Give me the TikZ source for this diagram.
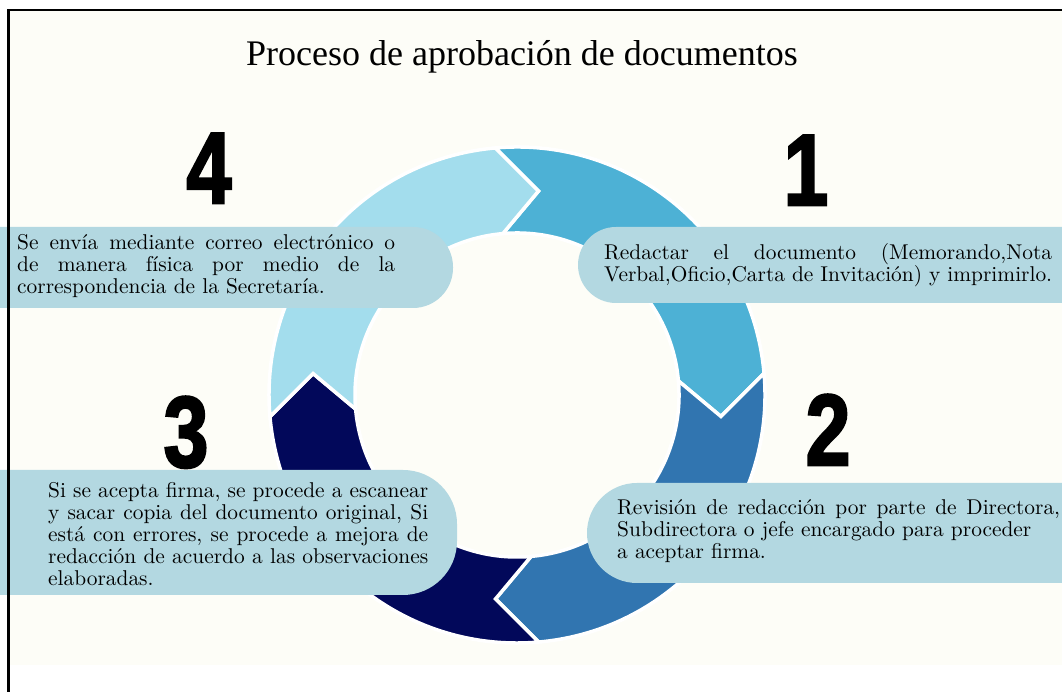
\documentclass[tikz,border=0pt]{standalone}
\usepackage{fontspec}
\usepackage{graphicx}
\newfontfamily\titlefont{Liberation Serif}
\newfontfamily\notefont{lmroman10-regular.otf}
\newfontfamily\digitfont{Liberation Sans Bold}[FakeBold=2.5]
\definecolor{cream}{HTML}{FDFDF7}
\definecolor{boxblue}{HTML}{B3D8E1}
\definecolor{skyblue}{HTML}{4DB1D5}
\definecolor{steelblue}{HTML}{3175B0}
\definecolor{darknavy}{HTML}{02085A}
\definecolor{paleblue}{HTML}{A3DDED}
\newcommand{\fullline}[1]{\makebox[\linewidth][s]{#1}}

\begin{document}
\begin{tikzpicture}[x=1pt,y=1pt]
  \tikzset{ringseg/.style={draw=white,line width=3.5pt,line join=miter,shift={(517,297)}},
    pill/.style={fill=boxblue},
    stepnote/.style={inner sep=0pt,anchor=base west,font=\notefont\fontsize{21.4}{22}\selectfont},
    bignum/.style={inner sep=0pt,anchor=base,text depth=0pt,font=\digitfont\fontsize{101}{101}\selectfont}}
  \useasboundingbox (0,0) rectangle (1062,692);
  \fill[cream] (10,27) rectangle (1062,681);
  % ring of four arrows
  \filldraw[ringseg,fill=skyblue] (95:248) arc[start angle=95,end angle=5,radius=248] -- (-6:205) -- (5:162) arc[start angle=5,end angle=95,radius=162] -- (84:205) -- cycle;
  \filldraw[ringseg,fill=steelblue] (5:248) arc[start angle=5,end angle=-85,radius=248] -- (-96:205) -- (-85:162) arc[start angle=-85,end angle=5,radius=162] -- (-6:205) -- cycle;
  \filldraw[ringseg,fill=darknavy] (-85:248) arc[start angle=-85,end angle=-175,radius=248] -- (-186:205) -- (-175:162) arc[start angle=-175,end angle=-85,radius=162] -- (-96:205) -- cycle;
  \filldraw[ringseg,fill=paleblue] (185:248) arc[start angle=185,end angle=95,radius=248] -- (84:205) -- (95:162) arc[start angle=95,end angle=185,radius=162] -- (174:205) -- cycle;
  % text boxes
  \fill[pill,rounded corners=40pt] (-60,384) rectangle (453,465);
  \fill[pill,rounded corners=38pt] (578,389) rectangle (1120,465);
  \fill[pill,rounded corners=54pt] (-60,97) rectangle (457,222);
  \fill[pill,rounded corners=50pt] (587,109) rectangle (1120,209);
  \node[font=\titlefont\fontsize{36}{36}\selectfont,anchor=base] (title) at (522,626) {Proceso de aprobación de documentos};
  \node[bignum] (num1) at (806,487) {\scalebox{0.8}[1]{1}};
  \node[bignum] (num2) at (828,227) {\scalebox{0.8}[1]{2}};
  \node[bignum] (num3) at (186,225) {\scalebox{0.8}[1]{3}};
  \node[bignum] (num4) at (209,489) {\scalebox{0.8}[1]{4}};
  \node[stepnote] (draft) at (604,432) {\parbox[t]{448pt}{\fullline{Redactar el documento (Memorando,Nota}\\Verbal,Oficio,Carta de Invitación) y imprimirlo.}};
  \node[stepnote] (review) at (617,177) {\parbox[t]{443pt}{\fullline{Revisión de redacción por parte de Directora,}\\Subdirectora o jefe encargado para proceder\\a aceptar firma.}};
  \node[stepnote] (scan) at (48,194) {\parbox[t]{380pt}{\fullline{Si se acepta firma, se procede a escanear}\\\fullline{y sacar copia del documento original, Si}\\\fullline{está con errores, se procede a mejora de}\\\fullline{redacción de acuerdo a las observaciones}\\elaboradas.}};
  \node[stepnote] (send) at (17,442) {\parbox[t]{378pt}{\fullline{Se envía mediante correo electrónico o}\\\fullline{de manera física por medio de la}\\correspondencia de la Secretaría.}};
  % frame
  \draw[line width=2.7pt] (8.5,0) -- (8.5,682) -- (1062,682);
\end{tikzpicture}
\end{document}
